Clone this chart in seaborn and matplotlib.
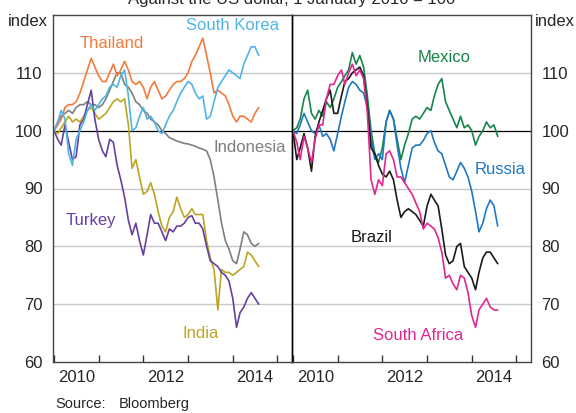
import pandas as pd
import matplotlib
matplotlib.use('Agg')
import matplotlib.pyplot as plt
import seaborn as sns

# monthly index values, 1 January 2010 = 100 (Jan 2010 .. Aug 2014)
thailand = [100, 101, 102, 104, 104.5, 104.5, 105, 106.5, 108.5, 110.5, 112.5, 111,
            109.5, 108.5, 108.5, 110, 111.5, 109.5, 110.5, 112, 110.5, 108.5, 108, 108.5,
            107.5, 105.5, 107.5, 108.5, 107, 105.5, 106, 107, 108, 108.5, 108.5, 109,
            110, 112, 113, 114.5, 116, 113, 110, 106.5, 107, 106.5, 106, 104.5,
            102.5, 101.5, 102.5, 102.5, 102, 101.5, 103, 104]
south_korea = [100, 101.5, 103.5, 102, 96, 94, 98.5, 100, 101.5, 103.5, 104.5, 103.5,
               104.5, 105.5, 106, 107.5, 108, 107.5, 109.5, 110.5, 106, 100, 100.5, 102.5,
               104, 102, 102.5, 101.5, 100, 99.5, 101, 102.5, 103.5, 105, 106.5, 107.5,
               108.5, 108, 106.5, 105.5, 106, 102, 102.5, 105, 107.5, 108.5, 109.5, 110.5,
               110, 109.5, 109, 111.5, 113, 114.5, 114.5, 113]
indonesia = [100, 101.5, 102.5, 103, 103.5, 103, 104, 104.5, 104.5, 105, 104.5, 104.5,
             104, 104.5, 105.5, 107, 108.5, 110, 110, 108, 107.5, 106.5, 105, 104.5,
             103.5, 103, 102, 101.5, 101, 100, 99.5, 98.8, 98.5, 98.2, 98, 97.8,
             97.7, 97.5, 97.3, 97, 96.8, 96.5, 95, 92, 88, 84, 81, 79.5,
             77.5, 77, 79.5, 82.5, 82, 80.5, 80, 80.5]
india = [100, 99.5, 100.5, 101.5, 102.5, 101.5, 102, 101.5, 102.5, 103.5, 104, 103,
         102, 102.5, 103, 104, 105, 105.5, 105, 105.5, 101, 93.5, 95, 92,
         89, 89.5, 91, 89, 86, 83.5, 82.5, 85, 86, 88.5, 86.5, 85,
         85.5, 86.5, 85.5, 85.5, 85.5, 81, 78, 76, 69, 76, 75.5, 75.5,
         75, 75.5, 76, 76.5, 79, 78.5, 77.5, 76.5]
turkey = [100, 98.5, 97.5, 101, 98, 95, 95.5, 101, 102, 104.5, 107, 102,
          98.5, 96.5, 95.5, 98.5, 98, 94, 91.5, 88.5, 84.5, 82, 84, 81,
          78.5, 82, 85.5, 84, 84, 82.5, 81, 83, 82.5, 83.5, 83.5, 84,
          85, 85.3, 84, 84, 83, 80, 77.5, 77, 76.5, 75.5, 75, 74,
          71, 66, 68.5, 69.5, 71, 72, 71, 70]
mexico = [100, 100.5, 102, 105.5, 107, 103, 102, 103.5, 102.5, 105, 104, 105.5,
          107.5, 108.5, 109.5, 110.5, 113.5, 111.5, 113, 111, 106, 100, 96, 94.5,
          97, 101.5, 103.5, 102, 98.5, 95, 97.5, 99.5, 102, 102.5, 102, 103,
          104, 103.5, 106, 108, 109, 105, 103.5, 102, 100.5, 102.5, 100.5, 101,
          100, 97.5, 99, 100, 101.5, 100.5, 101, 99]
russia = [100, 99.5, 101, 103, 101.5, 100, 99.5, 101, 99, 99.5, 98.5, 96.5,
          99.5, 102.5, 105, 107.5, 108.5, 108, 107, 106.5, 104, 98.5, 95, 96,
          95, 101.5, 103.5, 102, 97.5, 93.5, 91, 94, 97, 97.5, 97.5, 98.3,
          99.5, 100, 98, 96.5, 96, 94, 92, 91.5, 93, 94.5, 93.5, 92,
          89.5, 86, 82.5, 84, 86.5, 88, 87, 83.5]
brazil = [100, 95, 97, 99.5, 97, 93, 99, 101.5, 103.5, 105.5, 107, 103,
          103, 106, 108.5, 109, 110, 110.5, 111, 109.5, 104, 97, 96, 94,
          92.5, 92, 93, 91.5, 88, 85, 86, 86.5, 86, 85.5, 84.5, 83.5,
          87, 89, 88, 87, 83, 78.5, 77, 77.5, 80, 80.5, 76.5, 75.5,
          74.5, 72.5, 75.5, 78, 79, 79, 78, 77]
south_africa = [100, 98, 95, 99, 97, 94.5, 98.5, 101, 101, 105.5, 108, 108,
                109.5, 110.5, 108, 110, 111.5, 109.5, 110.5, 109, 103, 91.5, 89, 91.5,
                90.5, 96, 96.5, 95, 92, 92, 91, 90, 89, 87.5, 86, 83,
                84, 83.5, 83, 81.5, 79, 74.5, 75, 73.5, 72.5, 75, 74.5, 72,
                68, 66, 69, 70, 71, 69.5, 69, 69]

dates = pd.date_range('2010-01-01', periods=len(thailand), freq='MS')

left_series = {'Thailand': thailand, 'South Korea': south_korea, 'Indonesia': indonesia,
               'India': india, 'Turkey': turkey}
right_series = {'Mexico': mexico, 'Russia': russia, 'Brazil': brazil,
                'South Africa': south_africa}

colors = {'Thailand': '#F47A3A', 'South Korea': '#4FB4E6', 'Indonesia': '#7F7F7F',
          'India': '#BDA424', 'Turkey': '#6640A0', 'Mexico': '#16854A',
          'Russia': '#1F78C4', 'Brazil': '#1A1A1A', 'South Africa': '#E3268F'}


def to_long(series):
    frames = [pd.DataFrame({'date': dates, 'value': v, 'country': k}) for k, v in series.items()]
    return pd.concat(frames, ignore_index=True)


sns.set_style('white')
plt.rcParams['font.family'] = ['Liberation Sans', 'DejaVu Sans']
plt.rcParams['font.size'] = 12
plt.rcParams['xtick.bottom'] = True
plt.rcParams['xtick.direction'] = 'in'

fig = plt.figure(figsize=(5.76, 4.13), dpi=100)
ax1 = fig.add_axes([53 / 576, 51 / 413, 239 / 576, 347 / 413])
ax2 = fig.add_axes([292 / 576, 51 / 413, 239 / 576, 347 / 413])
ax2.patch.set_visible(False)

left_df = to_long(left_series)
right_df = to_long(right_series)

# draw order: later ones on top
sns.lineplot(data=left_df, x='date', y='value', hue='country', palette=colors,
             hue_order=['Indonesia', 'India', 'Turkey', 'Thailand', 'South Korea'],
             linewidth=1.2, legend=False, ax=ax1)
sns.lineplot(data=right_df, x='date', y='value', hue='country', palette=colors,
             hue_order=['Mexico', 'Russia', 'Brazil', 'South Africa'],
             linewidth=1.2, legend=False, ax=ax2)

xmin = pd.Timestamp('2009-12-24')
xmax = pd.Timestamp('2015-04-30')
year_starts = [pd.Timestamp(f'{y}-01-01') for y in range(2010, 2016)]
label_pos = [pd.Timestamp(f'{y}-07-02') for y in (2010, 2012, 2014)]

for ax in (ax1, ax2):
    ax.set_ylim(60, 120)
    ax.set_xlim(xmin, xmax)
    for g in (70, 80, 90, 110):
        ax.axhline(g, color='#C8C8C8', lw=1, zorder=0)
    ax.axhline(100, color='black', lw=0.9, zorder=0)
    ax.set_xticks(year_starts)
    ax.set_xticklabels([])
    ax.set_xticks(label_pos, minor=True)
    ax.set_xticklabels(['2010', '2012', '2014'], minor=True)
    ax.tick_params(axis='x', which='major', direction='in', length=5, width=1,
                   color='#333333', bottom=True, top=False)
    ax.tick_params(axis='x', which='minor', length=0, pad=6, labelsize=12, bottom=True)
    ax.set_yticks([60, 70, 80, 90, 100, 110])
    ax.set_yticklabels(['60', '70', '80', '90', '100', '110'])
    ax.set_xlabel('')
    ax.set_ylabel('')
    for s in ax.spines.values():
        s.set_color('#444444')
        s.set_linewidth(1)

ax1.tick_params(axis='y', left=False, right=False, labelleft=True, labelright=False,
                pad=4, labelsize=12)
ax2.tick_params(axis='y', left=False, right=False, labelleft=False, labelright=True,
                pad=4, labelsize=12)
ax1.spines['right'].set_color('black')
ax2.spines['left'].set_color('black')

fig.text(48 / 576, 1 - 22 / 413, 'index', ha='right', va='center', fontsize=12)
fig.text(535 / 576, 1 - 22 / 413, 'index', ha='left', va='center', fontsize=12)
# title is cut by the top edge in the reference
fig.text(292 / 576, 1 - 4 / 413, 'Against the US dollar, 1 January 2010 = 100',
         ha='center', va='baseline', fontsize=12)
fig.text(55 / 576, 1 - 408 / 413, 'Source:', ha='left', va='baseline', fontsize=10.5)
fig.text(119 / 576, 1 - 408 / 413, 'Bloomberg', ha='left', va='baseline', fontsize=10.5)

# series labels, placed in figure pixels from the reference
labels = [('Thailand', 112, 43), ('South Korea', 232, 26), ('Indonesia', 250, 148),
          ('Turkey', 91, 221), ('India', 201, 333), ('Mexico', 444, 58),
          ('Russia', 500, 169), ('Brazil', 372, 237), ('South Africa', 418, 336)]
for name, px, py in labels:
    fig.text(px / 576, 1 - py / 413, name, color=colors[name], ha='center',
             va='center', fontsize=12)

fig.savefig('out.png', dpi=100)
